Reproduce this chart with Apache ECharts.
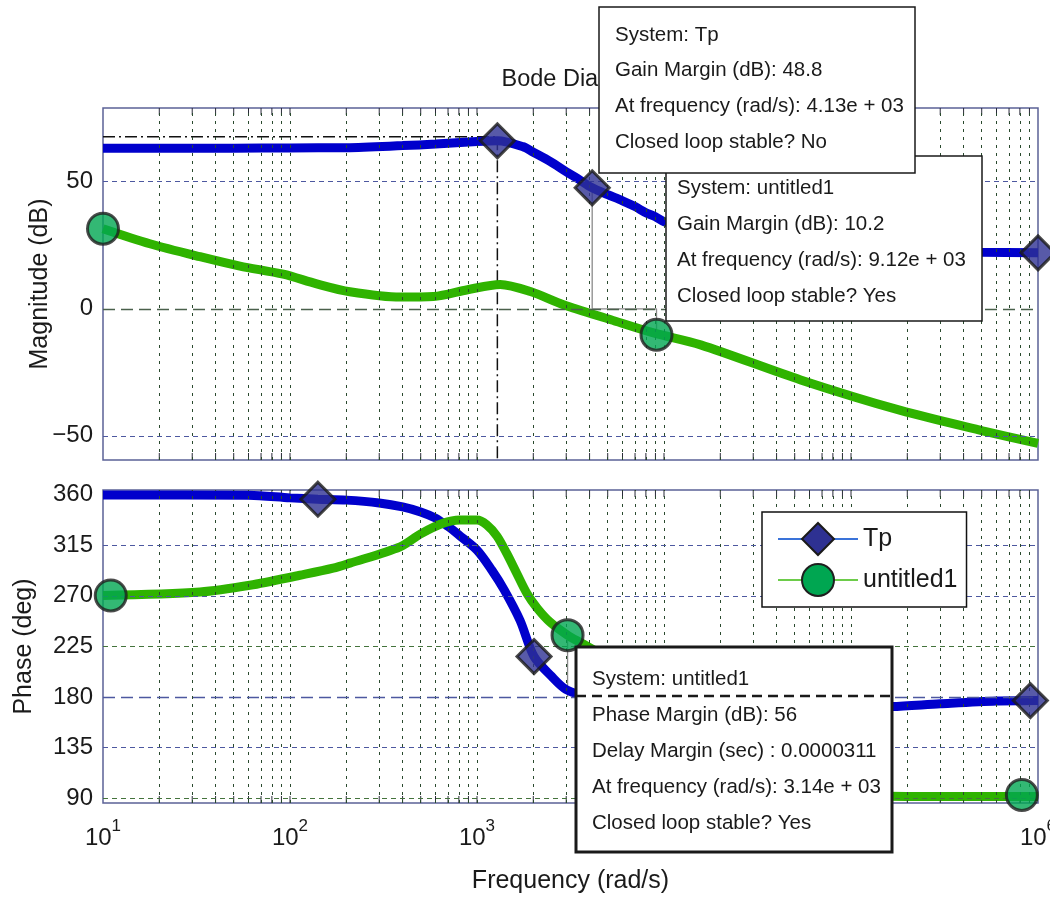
<!DOCTYPE html>
<html><head><meta charset="utf-8">
<script src="https://cdn.jsdelivr.net/npm/echarts@6/dist/echarts.min.js"></script>
<style>html,body{margin:0;padding:0;background:#fff}#c{width:1050px;height:899px}</style>
</head><body><div id="c"></div>
<script>
const FONT = '"Liberation Sans", Arial, Helvetica, sans-serif';

// ---- data ----
const tpMagFreq  = [10, 50, 100, 200, 400, 600, 1000, 1285, 1760, 2000, 2470, 3000, 3420, 4130, 5000, 6000, 7000, 8000, 9000, 10000, 20000, 50000, 100000, 200000, 500000, 1000000];
const tpMagDb    = [63.2, 63.2, 63.3, 63.4, 64.2, 64.8, 65.8, 66.1, 63.8, 61.6, 57.9, 53.9, 51.4, 47.6, 44.9, 42.5, 40.2, 37.8, 36.2, 34.3, 28.5, 25.0, 23.4, 22.6, 22.2, 22.0];

const unMagFreq  = [10, 17.8, 33, 54, 92, 139, 209, 390, 585, 890, 1330, 1930, 2900, 5200, 8800, 15700, 53800, 184000, 506000, 1000000];
const unMagDb    = [31.5, 25.6, 20.5, 16.8, 13.6, 9.8, 6.7, 4.6, 4.8, 7.5, 9.6, 6.8, 1.6, -4.3, -9.5, -14.2, -28.0, -40.0, -48.0, -53.0];

const tpPhaseFreq = [10, 60, 100, 141, 200, 300, 400, 500, 600, 700, 800, 1000, 1200, 1400, 1700, 2018, 2500, 3000, 4000, 6000, 10000, 30000, 100000, 165000, 300000, 600000, 1000000];
const tpPhaseDeg  = [359.6, 359.3, 357.0, 355.8, 355.0, 352.5, 349.0, 344.5, 339.0, 331.6, 324.0, 310.6, 292.8, 275.0, 248.0, 216.0, 198.5, 186.6, 180.0, 175.5, 172.5, 170.5, 170.8, 171.5, 174.0, 176.5, 177.0];

const unPhaseFreq = [10, 33, 61, 113, 170, 209, 388, 500, 658, 810, 1000, 1130, 1280, 1440, 1630, 1850, 2100, 2460, 3050, 3710, 5000, 8000, 15000, 30000, 60000, 150000, 300000, 1000000];
const unPhaseDeg  = [270.2, 273.3, 279.3, 288.2, 294.5, 299.0, 313.5, 325.0, 334.4, 337.3, 337.3, 332.9, 322.9, 307.8, 290.0, 272.0, 258.9, 246.5, 235.0, 227.0, 214.0, 185.0, 145.0, 112.0, 97.0, 92.0, 91.5, 91.5];

// markers
const tpMagMarks    = [[1285, 66.1], [4130, 47.6], [1000000, 22.0]];
const unMagMarks    = [[10, 31.5], [9120, -10.2]];
const tpPhaseMarks  = [[141, 355.8], [2018, 216.0], [910000, 176.8]];
const unPhaseMarks  = [[11, 270.3], [3050, 235.0], [820000, 93.0]];

// margin guide lines
const gmDashDot = [[10, 67.7], [1285, 67.7], [1285, -59.5]];
const gmGuide   = [[4130, 47.6], [4130, 0], [9120, 0], [9120, -10.2]];
const pmGuide   = [[3050, 235.0], [3050, 180]];

// ticks
const magTicks   = [-50, 0, 50];
const phaseTicks = [90, 135, 180, 225, 270, 315, 360];
const decadeExps = [1, 2, 3, 4, 5, 6];
const hiddenExps = [4, 5];

// annotation texts
const boxTpGain = ['System: Tp', 'Gain Margin (dB): 48.8', 'At frequency (rad/s): 4.13e + 03', 'Closed loop stable? No'];
const boxUnGain = ['System: untitled1', 'Gain Margin (dB): 10.2', 'At frequency (rad/s): 9.12e + 03', 'Closed loop stable? Yes'];
const boxUnPhase = ['System: untitled1', 'Phase Margin (dB): 56', 'Delay Margin (sec) : 0.0000311', 'At frequency (rad/s): 3.14e + 03', 'Closed loop stable? Yes'];

// ---- build ----
const zip = (a, b) => a.map((v, i) => [v, b[i]]);

const vertFreqs = [];
decadeExps.slice(0, -1).forEach(e => {
  for (let m = 2; m <= 10; m++) {
    const f = m * Math.pow(10, e);
    if (f < 1e6 - 1) vertFreqs.push(f);
  }
});

const S = {
  vert:   {color: '#2a4a2e', width: 1, type: [3, 5]},
  blue:   {color: '#4d58a0', width: 1, type: [5, 4]},
  green:  {color: '#44733c', width: 1, type: [5, 4]},
  longB:  {color: '#4d58a0', width: 1.3, type: [12, 6]},
  longG:  {color: '#4a604b', width: 1.3, type: [12, 6]}
};
const magStyle = v => v === 0 ? S.longG : S.blue;
const phaseStyle = v => v === 180 ? S.longB : (v === 225 || v === 90 ? S.green : S.blue);

function gridLineSeries(idx, ticks, styleFn) {
  const d = vertFreqs.map(f => ({xAxis: f, lineStyle: S.vert}));
  ticks.forEach(t => { const st = styleFn(t); if (st) d.push({yAxis: t, lineStyle: st}); });
  return {
    type: 'line', xAxisIndex: idx, yAxisIndex: idx, data: [], z: 1, silent: true,
    markLine: {silent: true, symbol: ['none', 'none'], label: {show: false}, animation: false, data: d}
  };
}

function tickSeries(idx) {
  return {
    type: 'custom', xAxisIndex: idx, yAxisIndex: idx, z: 2, silent: true,
    data: vertFreqs.map(f => [f]),
    encode: {x: 0},
    renderItem: (params, api) => {
      const cs = params.coordSys;
      const x = api.coord([api.value(0), 0])[0];
      const st = {stroke: '#2a2a3a', lineWidth: 1};
      return {type: 'group', children: [
        {type: 'line', shape: {x1: x, y1: cs.y, x2: x, y2: cs.y + 7}, style: st},
        {type: 'line', shape: {x1: x, y1: cs.y + cs.height, x2: x, y2: cs.y + cs.height - 7}, style: st}
      ]};
    }
  };
}

const blueLine = {color: '#0000cc', width: 9};
const greenLine = {color: '#2fb300', width: 9};
const diamondStyle = {color: '#2e3192', borderColor: '#1a1a1a', borderWidth: 3};
const circleStyle = {color: '#00a651', borderColor: '#1f1f1f', borderWidth: 3};

function curve(name, idx, xs, ys, lineStyle, symbol, itemStyle) {
  return {name, type: 'line', xAxisIndex: idx, yAxisIndex: idx, data: zip(xs, ys),
    symbol, symbolSize: 30, showSymbol: false, smooth: 0.3, lineStyle, itemStyle, z: 3, silent: true};
}
function marks(name, idx, pts, symbol, size, itemStyle) {
  return {name, type: 'scatter', xAxisIndex: idx, yAxisIndex: idx, data: pts, symbol, symbolSize: size,
    itemStyle, z: 5, silent: true, clip: false};
}
function guide(idx, pts, lineStyle) {
  return {type: 'line', xAxisIndex: idx, yAxisIndex: idx, data: pts, symbol: 'none', lineStyle, z: 2, silent: true};
}

function box(x, y, w, h, tx, ty0, step, lines, z, bw) {
  const els = [{type: 'rect', shape: {x, y, width: w, height: h}, style: {fill: '#fff', stroke: '#1a1a1a', lineWidth: bw}, z, silent: true}];
  lines.forEach((t, i) => els.push({type: 'text', x: tx, y: ty0 + i * step,
    style: {text: t, font: '20.5px ' + FONT, fill: '#1a1a1a', verticalAlign: 'middle', align: 'left'}, z: z + 1, silent: true}));
  return els;
}

const minus = v => v < 0 ? '\u2212' + (-v) : String(v);

const option = {
  animation: false,
  backgroundColor: '#fff',
  textStyle: {fontFamily: FONT},
  title: {text: 'Bode Diagram', left: 496.5, top: 63, textStyle: {fontSize: 23.5, fontWeight: 'normal', color: '#1a1a1a', fontFamily: FONT}},
  legend: {
    left: 762, top: 512, orient: 'vertical', itemWidth: 80, itemHeight: 40, itemGap: 7,
    padding: [10, 9, 10, 15], borderColor: '#111', borderWidth: 1.5, backgroundColor: '#fff',
    selectedMode: false, z: 6,
    textStyle: {fontSize: 25, color: '#1a1a1a', fontFamily: FONT},
    data: [
      {name: 'Tp', lineStyle: {width: 2, color: '#3a73d9'}},
      {name: 'untitled1', lineStyle: {width: 2, color: '#6dcc4a'}}
    ]
  },
  grid: [
    {left: 103, top: 108, width: 935, height: 352, show: true, borderColor: '#5b6196', borderWidth: 1.5, backgroundColor: 'transparent', outerBoundsMode: 'none', containLabel: false},
    {left: 103, top: 490, width: 935, height: 313, show: true, borderColor: '#5b6196', borderWidth: 1.5, backgroundColor: 'transparent', outerBoundsMode: 'none', containLabel: false}
  ],
  xAxis: [
    {type: 'log', logBase: 10, min: 10, max: 1e6, gridIndex: 0, axisLabel: {show: false}, axisTick: {show: false}, axisLine: {show: false}, splitLine: {show: false}},
    {type: 'log', logBase: 10, min: 10, max: 1e6, gridIndex: 1, axisTick: {show: false}, axisLine: {show: false}, splitLine: {show: false},
      name: 'Frequency (rad/s)', nameLocation: 'middle', nameGap: 66, nameMoveOverlap: false,
      nameTextStyle: {fontSize: 25, color: '#1a1a1a', fontFamily: FONT},
      axisLabel: {
        margin: 23,
        formatter: v => { const e = Math.round(Math.log10(v)); return hiddenExps.includes(e) ? '' : '{b|10}{s|' + e + '}'; },
        rich: {
          b: {fontSize: 24, lineHeight: 24, verticalAlign: 'bottom', color: '#1a1a1a', fontFamily: FONT},
          s: {fontSize: 17, lineHeight: 17, padding: [0, 0, 15, 0], verticalAlign: 'bottom', color: '#1a1a1a', fontFamily: FONT}
        }
      }}
  ],
  yAxis: [
    {type: 'value', gridIndex: 0, min: -59.5, max: 79, name: 'Magnitude (dB)', nameLocation: 'middle', nameGap: 50, nameMoveOverlap: false,
      nameTextStyle: {fontSize: 25, color: '#1a1a1a', fontFamily: FONT},
      axisLabel: {customValues: magTicks, formatter: minus, fontSize: 24, margin: 10, color: '#1a1a1a', fontFamily: FONT},
      axisTick: {show: false}, axisLine: {show: false}, splitLine: {show: false}},
    {type: 'value', gridIndex: 1, min: 85.8, max: 364, name: 'Phase (deg)', nameLocation: 'middle', nameGap: 66, nameMoveOverlap: false,
      nameTextStyle: {fontSize: 25, color: '#1a1a1a', fontFamily: FONT},
      axisLabel: {customValues: phaseTicks, formatter: minus, fontSize: 24, margin: 10, color: '#1a1a1a', fontFamily: FONT},
      axisTick: {show: false}, axisLine: {show: false}, splitLine: {show: false}}
  ],
  series: [
    gridLineSeries(0, magTicks, magStyle),
    gridLineSeries(1, phaseTicks.filter(t => t !== 360), phaseStyle),
    tickSeries(0),
    tickSeries(1),
    guide(0, gmDashDot, {color: '#111', width: 1.5, type: [12, 4, 2, 4]}),
    guide(0, gmGuide, {color: '#8a8a8a', width: 1.3}),
    guide(1, pmGuide, {color: '#8a8a8a', width: 1.3}),
    curve('Tp', 0, tpMagFreq, tpMagDb, blueLine, 'diamond', diamondStyle),
    curve('untitled1', 0, unMagFreq, unMagDb, greenLine, 'circle', circleStyle),
    curve('Tp', 1, tpPhaseFreq, tpPhaseDeg, blueLine, 'diamond', diamondStyle),
    curve('untitled1', 1, unPhaseFreq, unPhaseDeg, greenLine, 'circle', circleStyle),
    marks('TpMarks', 0, tpMagMarks, 'diamond', 34, diamondStyle),
    marks('unMarks', 0, unMagMarks, 'circle', 31, circleStyle),
    marks('TpMarks', 1, tpPhaseMarks, 'diamond', 34, diamondStyle),
    marks('unMarks', 1, unPhaseMarks, 'circle', 31, circleStyle)
  ],
  graphic: [].concat(
    box(666, 156, 316, 165, 677, 188, 36, boxUnGain, 100, 1.5),
    box(599, 7, 316, 166, 615, 35, 35.7, boxTpGain, 110, 1.5),
    box(576, 647, 316, 205, 592, 679, 36.2, boxUnPhase, 100, 3),
    [{type: 'line', shape: {x1: 576, y1: 696, x2: 892, y2: 696}, style: {stroke: '#1a1a1a', lineWidth: 2.5, lineDash: [10, 6]}, z: 103, silent: true}]
  )
};

const chart = echarts.init(document.getElementById('c'));
chart.setOption(option);
</script></body></html>
